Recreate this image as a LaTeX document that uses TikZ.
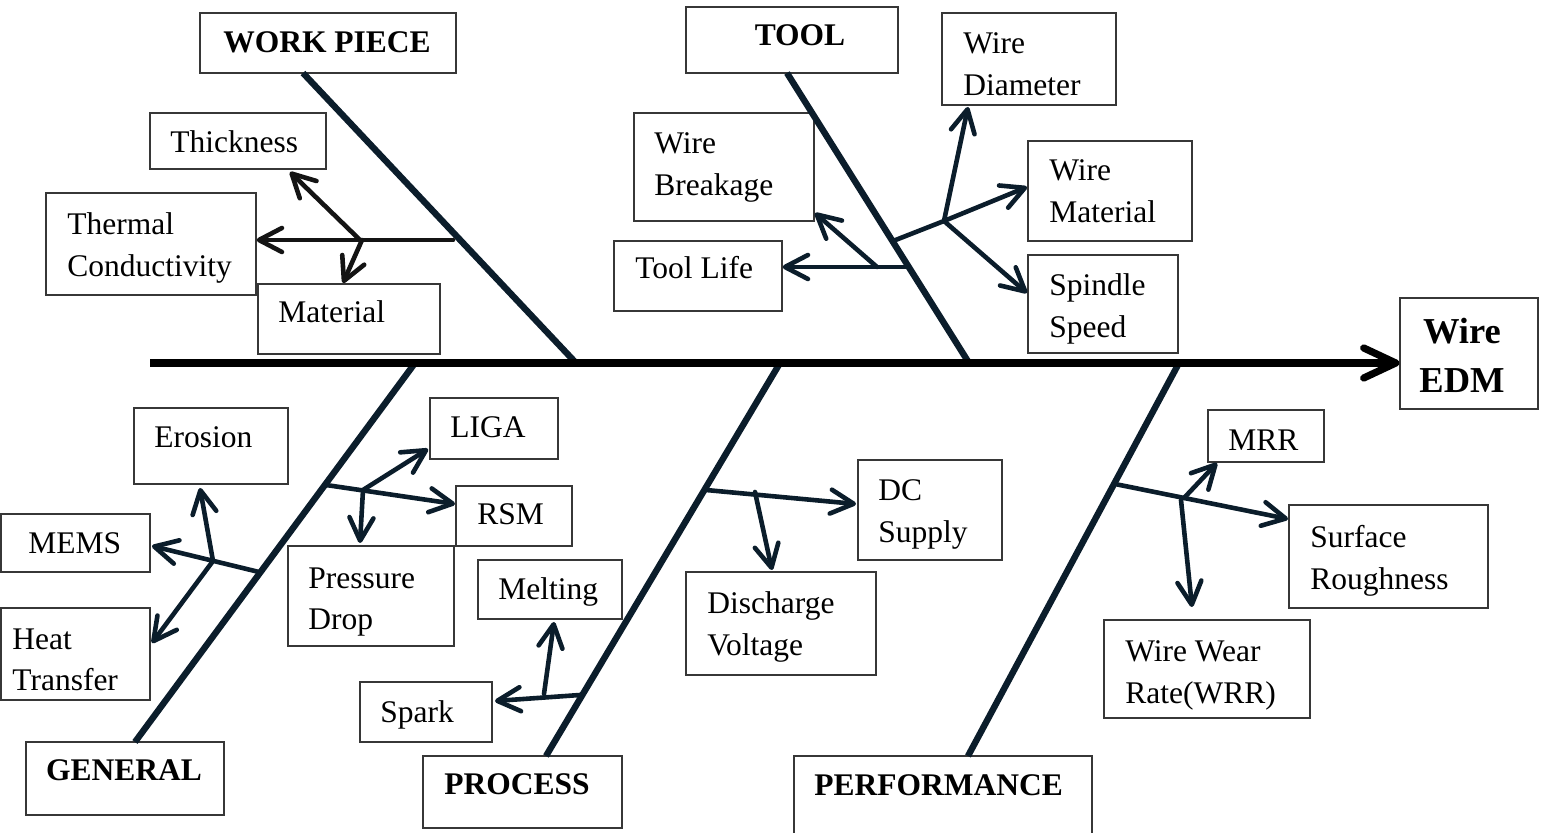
\documentclass[tikz,border=0pt]{standalone}
\usepackage{fontspec}
\setmainfont{Liberation Serif}
\usetikzlibrary{arrows.meta,fit}
\definecolor{bone}{RGB}{11,29,43}
\definecolor{frame}{RGB}{55,55,55}

\begin{document}
\begin{tikzpicture}[x=0.5pt,y=-0.5pt,
  box/.style={draw=frame, line width=0.65pt, inner sep=0pt},
  txt/.style={inner sep=0pt, align=left, font=\fontsize{15.75pt}{20.9pt}\selectfont},
  head/.style={inner sep=0pt, font=\fontsize{15.75pt}{20.9pt}\selectfont\bfseries},
  ribs/.style={draw=bone, line width=3.2pt},
  twig/.style={draw=bone, line width=2.3pt, line cap=round,
    -{Straight Barb[length=11.5pt,width=12pt,round]}},
  stem/.style={draw=bone, line width=2.3pt, line cap=round},
]
\clip (0,0) rectangle (1544,833);

% ---------- boxes ----------
\node[box, fit={(200,13) (456,73)}]   (wp)    {};
\node[box, fit={(150,113) (326,169)}] (thick) {};
\node[box, fit={(46,193) (256,295)}]  (therm) {};
\node[box, fit={(258,284) (440,354)}] (matl)  {};
\node[box, fit={(686,7) (898,73)}]    (tool)  {};
\node[box, fit={(942,13) (1116,105)}] (wdia)  {};
\node[box, fit={(634,113) (814,221)}] (wbrk)  {};
\node[box, fit={(614,241) (782,311)}] (tlife) {};
\node[box, fit={(1028,141) (1192,241)}] (wmat) {};
\node[box, fit={(1028,255) (1178,353)}] (spin) {};
\node[box, fit={(1400,298) (1538,409)}] (edm)  {};
\node[box, fit={(26,742) (224,815)}]  (gen)   {};
\node[box, fit={(134,408) (288,484)}] (eros)  {};
\node[box, fit={(1,514) (150,572)}]   (mems)  {};
\node[box, fit={(1,608) (150,700)}]   (heat)  {};
\node[box, fit={(288,546) (454,646)}] (press) {};
\node[box, fit={(430,398) (558,459)}] (liga)  {};
\node[box, fit={(456,486) (572,546)}] (rsm)   {};
\node[box, fit={(478,560) (622,619)}] (melt)  {};
\node[box, fit={(360,682) (492,742)}] (spark) {};
\node[box, fit={(423,756) (622,828)}] (proc)  {};
\node[box, fit={(858,460) (1002,560)}] (dcs)  {};
\node[box, fit={(686,572) (876,675)}] (disc)  {};
\node[box, fit={(794,756) (1092,850)}] (perf) {};
\node[box, fit={(1208,410) (1324,462)}] (mrr)  {};
\node[box, fit={(1289,505) (1488,608)}] (surf) {};
\node[box, fit={(1104,620) (1310,718)}] (wwr)  {};

% ---------- labels ----------
\node[head, anchor=base] (wpT) at (327,53) {WORK PIECE};
\node[txt, anchor=base west] (thickT) at (170,153) {Thickness};
\node[txt, anchor=north west] (thermT) at (67,212) {Thermal\\Conductivity};
\node[txt, anchor=base west] (matlT) at (278,323) {Material};
\node[head, anchor=base] (toolT) at (800,46) {TOOL};
\node[txt, anchor=north west] (wdiaT) at (963,32) {Wire\\Diameter};
\node[txt, anchor=north west] (wbrkT) at (654,132) {Wire\\Breakage};
\node[txt, anchor=base west] (tlifeT) at (635,279) {Tool Life};
\node[txt, anchor=north west] (wmatT) at (1049,159) {Wire\\Material};
\node[txt, anchor=north west] (spinT) at (1049,273) {Spindle\\Speed};
\node[inner sep=0pt, align=center, anchor=north,
      font=\fontsize{18.25pt}{24.5pt}\selectfont\bfseries] (edmT) at (1462,318) {Wire\\EDM};
\node[head, anchor=base] (genT) at (124,781) {GENERAL};
\node[txt, anchor=base west] (erosT) at (154,448) {Erosion};
\node[txt, anchor=base west] (memsT) at (28,554) {MEMS};
\node[txt, anchor=north west] (heatT) at (12,628) {Heat\\Transfer};
\node[txt, anchor=north west] (pressT) at (308,567) {Pressure\\Drop};
\node[txt, anchor=base west] (ligaT) at (450,438) {LIGA};
\node[txt, anchor=base west] (rsmT) at (477,525) {RSM};
\node[txt, anchor=base west] (meltT) at (498,600) {Melting};
\node[txt, anchor=base west] (sparkT) at (380,723) {Spark};
\node[head, anchor=base west] (procT) at (444,795) {PROCESS};
\node[txt, anchor=north west] (dcsT) at (878,479) {DC\\Supply};
\node[txt, anchor=north west] (discT) at (707,591) {Discharge\\Voltage};
\node[head, anchor=base west] (perfT) at (814,796) {PERFORMANCE};
\node[txt, anchor=base west] (mrrT) at (1228,451) {MRR};
\node[txt, anchor=north west] (surfT) at (1310,525) {Surface\\Roughness};
\node[txt, anchor=north west] (wwrT) at (1125,640) {Wire Wear\\Rate(WRR)};

% ---------- bones ----------
\coordinate (wpA) at (303,73);   \coordinate (wpB) at (576,363);
\coordinate (toA) at (787,73);   \coordinate (toB) at (969,363);
\coordinate (geA) at (415,363);  \coordinate (geB) at (135,742);
\coordinate (prA) at (780,363);  \coordinate (prB) at (546,756);
\coordinate (peA) at (1179,363); \coordinate (peB) at (968,756);
\draw[ribs] (wpA) -- (wpB);
\draw[ribs] (toA) -- (toB);
\draw[ribs] (geA) -- (geB);
\draw[ribs] (prA) -- (prB);
\draw[ribs] (peA) -- (peB);

% main spine
\coordinate (spL) at (150,363);
\draw[black, line width=3.6pt, -{Straight Barb[length=16pt,width=15pt,round]}]
  (spL) -- (spL -| edm.west);

% ---------- work piece causes ----------
\begin{scope}[twig/.append style={draw=black!92}, stem/.append style={draw=black!92}]
\coordinate (w0) at (453,240); \coordinate (w1) at (360,240); \coordinate (w2) at (362,240);
\draw[twig] (w0) -- (w0 -| therm.east);
\draw[twig] (w1) -- (290,172);
\draw[twig] (w2) -- (343,283);
\end{scope}

% ---------- tool causes ----------
\coordinate (t0) at (908,267); \coordinate (t1) at (877,267);
\draw[twig] (t0) -- (t0 -| tlife.east);
\draw[twig] (t1) -- (815,213);
\coordinate (t2) at (893,241); \coordinate (t3) at (944,221);
\draw[stem] (t2) -- (t3);
\draw[twig] (t3) -- (1027,187);
\draw[twig] (t3) -- (968,107);
\draw[twig] (t3) -- (1027,293);

% ---------- general causes ----------
\coordinate (g0) at (326,485); \coordinate (g1) at (363,490);
\draw[twig] (g0) -- (455,504);
\draw[twig] (g1) -- (428,449);
\draw[twig] (g1) -- (360,543);
\coordinate (g2) at (259,572); \coordinate (g3) at (213,561);
\draw[twig] (g2) -- (152,546);
\draw[twig] (g3) -- (200,488);
\draw[twig] (g3) -- (152,643);

% ---------- process causes ----------
\coordinate (p0) at (706,490); \coordinate (p1) at (755,492);
\draw[twig] (p0) -- (856,504);
\draw[twig] (p1) -- (772,570);
\coordinate (p2) at (580,695); \coordinate (p3) at (544,694);
\draw[twig] (p2) -- (495,701);
\draw[twig] (p3) -- (554,622);

% ---------- performance causes ----------
\coordinate (r0) at (1115,484); \coordinate (r1) at (1184,498); \coordinate (r2) at (1181,500);
\draw[twig] (r0) -- (1288,519);
\draw[twig] (r1) -- (1217,463);
\draw[twig] (r2) -- (1192,607);
\end{tikzpicture}
\end{document}
